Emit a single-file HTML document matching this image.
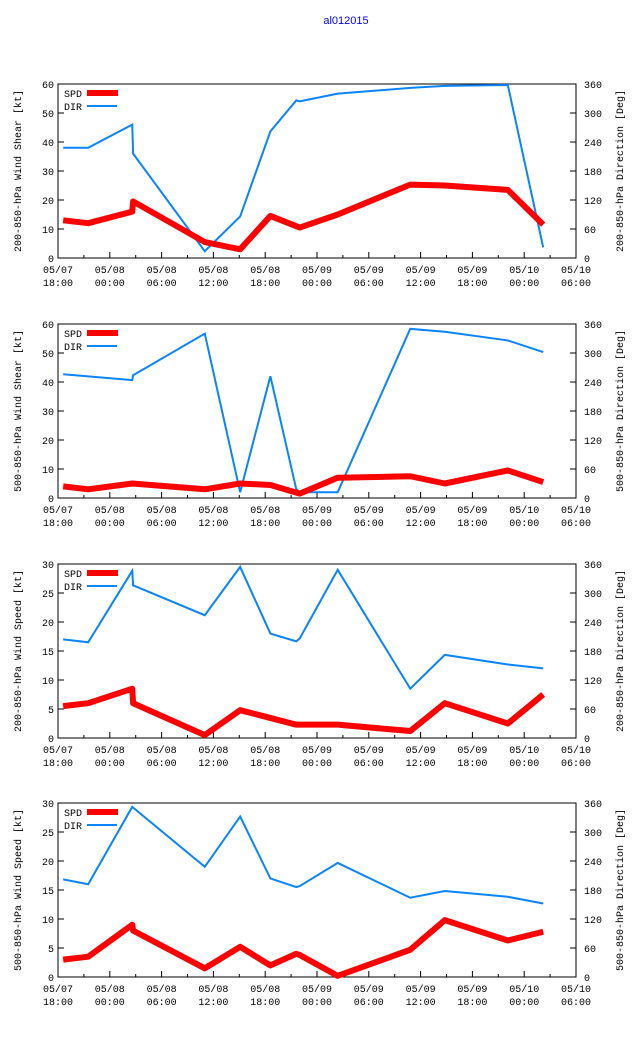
<!DOCTYPE html>
<html><head><meta charset="utf-8"><style>
html,body{margin:0;padding:0;background:#fff;}
svg{display:block;font-family:"Liberation Mono","DejaVu Sans Mono",monospace;}
</style></head><body>
<svg id="chart" width="640" height="1060" viewBox="0 0 640 1060">
<text x="346" y="24" font-size="11" fill="#0000ff" text-anchor="middle" font-family="Liberation Sans, sans-serif">al012015</text>
</svg>
<script>
// x-axis: hours since 05/07 18:00
const xTickLabels1 = ["05/07","05/08","05/08","05/08","05/08","05/09","05/09","05/09","05/09","05/10","05/10"];
const xTickLabels2 = ["18:00","00:00","06:00","12:00","18:00","00:00","06:00","12:00","18:00","00:00","06:00"];
const leftTicks = [0,10,20,30,40,50,60];
const leftTicks2 = [0,5,10,15,20,25,30];
const rightTicks = [0,60,120,180,240,300,360];
const panelTitles = ["200-850-hPa Wind Shear [kt]","500-850-hPa Wind Shear [kt]","200-850-hPa Wind Speed [kt]","500-850-hPa Wind Speed [kt]"];
const panelRight = ["200-850-hPa Direction [Deg]","500-850-hPa Direction [Deg]","200-850-hPa Direction [Deg]","500-850-hPa Direction [Deg]"];
const p1Hours = [0.6,3.5,8.6,8.7,17,21.1,24.6,28,32.4,40.8,44.8,52.1,56.2];
const p1Spd = [13,12,16,19.5,5.5,3,14.5,10.5,15,25.3,25,23.5,11.5];
const p1DirHours = [0.6,3.5,8.6,8.7,17,21.1,24.6,27.6,28,32.4,40.8,44.8,52.1,56.2];
const p1Dir = [228,228,276,216,14,86,262,326,324,340,352,356,358,22];
const p2Hours = [0.6,3.5,8.6,17,21.1,24.6,28,32.4,40.8,44.8,52.1,56.2];
const p2Spd = [4,3,5,3,5,4.5,1.5,7,7.5,5,9.5,5.5];
const p2DirHours = [0.6,8.6,8.7,17,21.1,24.6,27.6,28,32.4,40.8,44.8,52.1,56.2];
const p2Dir = [256,244,254,340,12,252,18,12,12,350,344,326,302];
const p3Hours = [0.6,3.5,8.6,8.7,17,21.1,27.6,32.4,40.8,44.8,52.1,56.2];
const p3Spd = [5.5,6,8.5,6,0.5,4.8,2.3,2.3,1.2,6,2.5,7.5];
const p3DirHours = [0.6,3.5,8.6,8.7,17,21.1,24.6,27.6,28,32.4,40.8,44.8,52.1,56.2];
const p3Dir = [204,198,346,316,254,354,216,200,206,348,102,172,152,144];
const p4Hours = [0.6,3.5,8.6,8.7,17,21.1,24.6,27.6,28,32.4,40.8,44.8,52.1,56.2];
const p4Spd = [3,3.5,9,8,1.5,5.2,2,4,3.8,0.2,4.7,9.8,6.3,7.8];
const p4DirHours = [0.6,3.5,8.6,17,21.1,24.6,27.6,28,32.4,40.8,44.8,52.1,56.2];
const p4Dir = [202,192,352,228,332,204,186,188,236,164,178,166,152];

const svg = document.getElementById('chart');
const NS = 'http://www.w3.org/2000/svg';
function mk(tag, attrs, parent){const e=document.createElementNS(NS,tag);for(const k in attrs)e.setAttribute(k,attrs[k]);(parent||svg).appendChild(e);return e;}
const X0=58, X1=576, H=174;
const xs = h => X0 + (h/60)*(X1-X0);
const panels = [
 {top:84, lmax:60, lt:leftTicks, h:p1Hours, s:p1Spd, dh:p1DirHours, d:p1Dir},
 {top:324, lmax:60, lt:leftTicks, h:p2Hours, s:p2Spd, dh:p2DirHours, d:p2Dir},
 {top:564, lmax:30, lt:leftTicks2, h:p3Hours, s:p3Spd, dh:p3DirHours, d:p3Dir},
 {top:803, lmax:30, lt:leftTicks2, h:p4Hours, s:p4Spd, dh:p4DirHours, d:p4Dir}
];
panels.forEach((p,i)=>{
 const g = mk('g',{});
 
 
 const bot=p.top+H;
 const ys = v => bot - v/p.lmax*H;
 const yd = v => bot - v/360*H;
 const frame = mk('rect',{x:X0,y:p.top,width:X1-X0,height:H,fill:'none',stroke:'#000','stroke-width':1},g);
 
 
 for(let k=0;k<=20;k++){
  const x=xs(k*3), L=(k%2==0)?6:3;
  mk('line',{x1:x,y1:bot,x2:x,y2:bot-L,stroke:'#000'},g);
  if(k%2==0){
   const t=mk('text',{x:x,y:bot+15,'font-size':10,'text-anchor':'middle'},g);
   t.textContent=xTickLabels1[k/2];
   
   
   const t2=mk('text',{x:x,y:bot+28,'font-size':10,'text-anchor':'middle'},g);
   t2.textContent=xTickLabels2[k/2];
   
   
  }
 }
 p.lt.forEach(v=>{
  const y=ys(v);
  mk('line',{x1:X0,y1:y,x2:X0+6,y2:y,stroke:'#000'},g);
  const t=mk('text',{x:X0-4,y:y+4,'font-size':10,'text-anchor':'end'},g);
  t.textContent=v;
  
  
 });
 rightTicks.forEach(v=>{
  const y=yd(v);
  mk('line',{x1:X1,y1:y,x2:X1-6,y2:y,stroke:'#000'},g);
  const t=mk('text',{x:X1+8,y:y+4,'font-size':10},g);
  t.textContent=v;
  
  
 });
 const cy=p.top+H/2;
 const yl=mk('text',{x:0,y:0,'font-size':10,'text-anchor':'middle',transform:`translate(21,${cy}) rotate(-90)`},g);
 yl.textContent=panelTitles[i];
 
 
 const yr=mk('text',{x:0,y:0,'font-size':10,'text-anchor':'middle',transform:`translate(623,${cy}) rotate(-90)`},g);
 yr.textContent=panelRight[i];
 
 
 const dpts=p.dh.map((h,j)=>xs(h)+','+yd(p.d[j])).join(' ');
 const dl=mk('polyline',{points:dpts,fill:'none',stroke:'#0a84ff','stroke-width':2,'stroke-linejoin':'miter'},g);
 
 
 const spts=p.h.map((h,j)=>xs(h)+','+ys(p.s[j])).join(' ');
 const sl=mk('polyline',{points:spts,fill:'none',stroke:'#ff0000','stroke-width':6,'stroke-linejoin':'round'},g);
 
 
 const t1=mk('text',{x:64,y:p.top+13,'font-size':10},g);
 t1.textContent='SPD';
 
 
 mk('line',{x1:87,y1:p.top+9,x2:118,y2:p.top+9,stroke:'#ff0000','stroke-width':6},g);
 const t2=mk('text',{x:64,y:p.top+26,'font-size':10},g);
 t2.textContent='DIR';
 
 
 mk('line',{x1:87,y1:p.top+22,x2:117,y2:p.top+22,stroke:'#0a84ff','stroke-width':2},g);
});
</script>
</body></html>
